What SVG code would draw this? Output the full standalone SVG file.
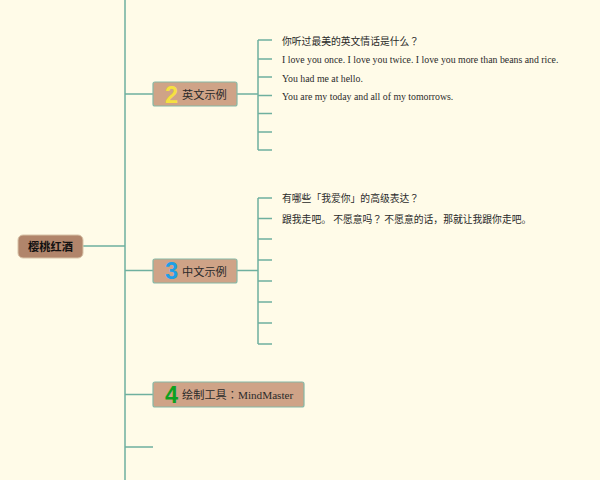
<svg xmlns="http://www.w3.org/2000/svg" width="600" height="480" viewBox="0 0 600 480">
<style>
.l{fill:none;stroke:#6fb09f;stroke-width:1.5}
.n{fill:#cfa387;stroke:#86b8a6;stroke-width:1.2}
.t{font-family:"Noto Sans CJK JP","Liberation Serif",sans-serif;font-size:11.2px;fill:#2a2a2a}
.e{font-family:"Liberation Serif","Noto Sans CJK JP",serif;font-size:9.8px;fill:#2a2a2a}
.c{font-family:"Noto Sans CJK JP",sans-serif;font-size:9.8px;fill:#2a2a2a}
.d{font-family:"Liberation Sans",sans-serif;font-size:23.500px;font-weight:bold}
</style>
<rect width="600" height="480" fill="#fffbe8"/>
<g id="connectors">
<path class="l" d="M125 0V480M83 246H125M125 94H153M125 270.500H153M125 394.500H153M125 447H153"/>
<path class="l" d="M237 94H258M258 40V150M258 40H272M258 59H272M258 77H272M258 95.500H272M258 113.500H272M258 132H272M258 150H272"/>
<path class="l" d="M237 270.500H258M258 198V344M258 198H272M258 218.500H272M258 239H272M258 260H272M258 281H272M258 302H272M258 323H272M258 344H272"/>
</g>
<g id="root"><rect x="18" y="235" width="65" height="23" rx="5" fill="#b1856b" stroke="#d8c3a8"/><text x="50.500" y="251" text-anchor="middle" font-family="Noto Sans CJK JP,sans-serif" font-size="11.200" font-weight="bold" fill="#111">樱桃红酒</text></g>
<g id="node2"><rect class="n" x="153" y="82" width="84" height="24" rx="2"/><text class="d" x="165" y="103" fill="#f5e040">2</text><text class="t" x="182" y="99">英文示例</text></g>
<g id="node3"><rect class="n" x="153" y="259" width="84" height="24" rx="2"/><text class="d" x="165" y="279" fill="#1f9fe6">3</text><text class="t" x="182" y="275.500">中文示例</text></g>
<g id="node4"><rect class="n" x="153" y="382" width="151" height="25" rx="2"/><text class="d" x="165" y="403" fill="#0fa020">4</text><text class="t" x="182" y="399">绘制工具：<tspan font-family="Liberation Serif">MindMaster</tspan></text></g>
<g id="leaves">
<text class="c" x="282" y="44.500">你听过最美的英文情话是什么？</text>
<text class="e" x="282" y="63">I love you once. I love you twice. I love you more than beans and rice.</text>
<text class="e" x="282" y="81.500">You had me at hello.</text>
<text class="e" x="282" y="100">You are my today and all of my tomorrows.</text>
<text class="c" x="282" y="202">有哪些「我爱你」的高级表达？</text>
<text class="c" x="282" y="223">跟我走吧。 不愿意吗？ 不愿意的话，那就让我跟你走吧。</text>
</g>
</svg>
